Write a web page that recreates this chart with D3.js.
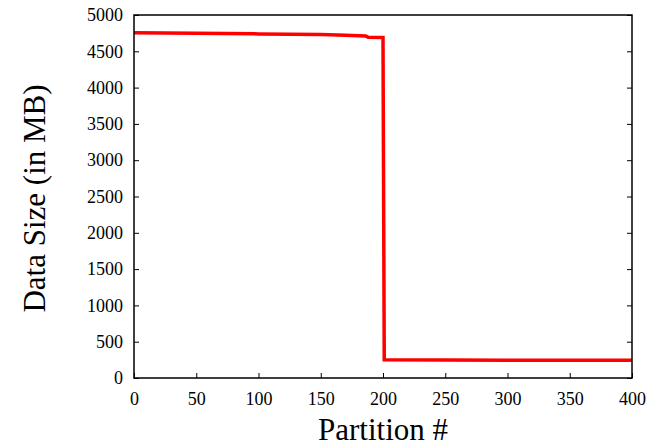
<!DOCTYPE html>
<html><head><meta charset="utf-8">
<script src="https://cdn.jsdelivr.net/npm/d3@7"></script>
<style>body{margin:0;background:#fff}svg{display:block}</style>
</head><body>
<svg id="c" width="657" height="446"></svg>
<script>
const partitions = [0, 50, 100, 150, 170, 186, 188, 199, 200, 201, 250, 300, 350, 400];
const sizes = [4755, 4748, 4740, 4730, 4722, 4712, 4695, 4690, 4690, 250, 248, 246, 245, 244];
const xTicks = [0, 50, 100, 150, 200, 250, 300, 350, 400];
const yTicks = [0, 500, 1000, 1500, 2000, 2500, 3000, 3500, 4000, 4500, 5000];

const svg = d3.select("#c");
const L = 134, R = 632, T = 15, B = 378;
const x = d3.scaleLinear().domain([0, 400]).range([L, R]);
const y = d3.scaleLinear().domain([0, 5000]).range([B, T]);
const font = "'Liberation Serif', 'Times New Roman', serif";

const gx = svg.append("g").attr("transform", `translate(0,${B})`)
  .call(d3.axisBottom(x).tickValues(xTicks).tickFormat(d3.format("d")).tickSize(-5).tickPadding(14));
const gy = svg.append("g").attr("transform", `translate(${L},0)`)
  .call(d3.axisLeft(y).tickValues(yTicks).tickFormat(d3.format("d")).tickSize(-5).tickPadding(11));
const gr = svg.append("g").attr("transform", `translate(${R},0)`)
  .call(d3.axisRight(y).tickValues(yTicks).tickSize(-5).tickFormat(""));
[gx, gy, gr].forEach(g => {
  g.attr("font-family", null).attr("font-size", null);
  g.select(".domain").remove();
  g.selectAll("line").attr("stroke", "#000").attr("stroke-width", 1);
  g.selectAll("text").style("font-family", font).style("font-size", "18px").attr("fill", "#000");
});

svg.append("path")
  .datum(partitions.map((p, i) => [p, sizes[i]]))
  .attr("fill", "none").attr("stroke", "#ff0000").attr("stroke-width", 3.5)
  .attr("stroke-linejoin", "miter")
  .attr("d", d3.line().x(d => x(d[0])).y(d => y(d[1])));

svg.append("rect").attr("x", L).attr("y", T).attr("width", R - L).attr("height", B - T)
  .attr("fill", "none").attr("stroke", "#000").attr("stroke-width", 1.5);

svg.append("text").attr("x", (L + R) / 2).attr("y", 440).attr("text-anchor", "middle")
  .style("font-family", font).style("font-size", "31px").text("Partition #");
svg.append("text").attr("transform", `translate(45,${(T + B) / 2 + 2}) rotate(-90)`)
  .attr("text-anchor", "middle").style("font-family", font).style("font-size", "31px")
  .text("Data Size (in MB)");
</script>
</body></html>
